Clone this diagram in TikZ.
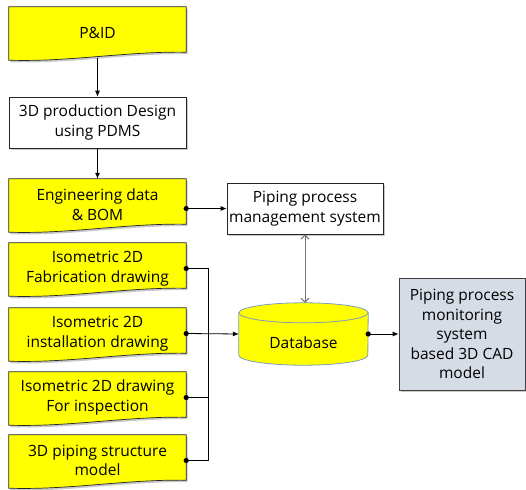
\documentclass[tikz,border=0pt]{standalone}
\usepackage{fontspec}
\setmainfont{Open Sans}
\usetikzlibrary{arrows.meta,backgrounds,calc}
\definecolor{docyellow}{HTML}{FFFF00}
\definecolor{monfill}{HTML}{D6DCE5}
\definecolor{dbline}{HTML}{7F9DB9}
\definecolor{shadec}{HTML}{C8C8C8}
\newcommand\docpath[1]{(#1.north west) -- (#1.north east) -- ([yshift=6pt]#1.south east) .. controls ([xshift=-60pt,yshift=7pt]#1.south east) and ([xshift=60pt,yshift=-4pt]#1.south west) .. ([yshift=-2pt]#1.south west) -- cycle}
\begin{document}
\begin{tikzpicture}[x=1pt,y=-1pt,
  font=\fontsize{15.5}{19.5}\selectfont,
  docnode/.style={minimum width=177pt, minimum height=51pt, inner sep=0pt, align=center},
  boxnode/.style={draw=black!85, line width=0.7pt, fill=white, inner sep=0pt, align=center},
  monnode/.style={draw=black!75, line width=0.7pt, fill=monfill, inner sep=0pt, align=center, minimum width=126pt, minimum height=112pt},
  dbnode/.style={inner sep=0pt, minimum width=129pt, minimum height=62pt},
  docline/.style={draw=black!85, line width=0.7pt, fill=docyellow},
  conn/.style={draw=black, line width=0.8pt, -{Latex[length=6pt,width=5pt]}},
  plain/.style={draw=black, line width=0.8pt},
  biconn/.style={draw=black!55, line width=1pt, {Straight Barb[length=4pt,width=8pt]}-{Straight Barb[length=4pt,width=8pt]}},
  dot/.style={fill=black}
]
\useasboundingbox (0,0) rectangle (526,489);

% document nodes (text)
\node[docnode] (pid) at (97.5,32.5) {P\&ID};
\node[boxnode, minimum width=177pt, minimum height=51pt] (prod) at (97.5,122.5) {3D production Design\\using PDMS};
\node[docnode] (eng) at (97.5,204.5) {Engineering data\\\& BOM};
\node[docnode] (fab) at (97.5,268.5) {Isometric 2D\\Fabrication drawing};
\node[docnode] (ins) at (97.5,333.5) {Isometric 2D\\installation drawing};
\node[docnode] (insp) at (97.5,397.5) {Isometric 2D drawing\\For inspection};
\node[docnode] (pip) at (97.5,460.5) {3D piping structure\\model};

\node[boxnode, minimum width=156pt, minimum height=51pt] (mgmt) at (305,208.5) {Piping process\\management system};
\node[dbnode] (db) at (303.5,334) {};
\node at (303.5,343) {Database};
\node[monnode] (mon) at (462,334) {Piping process\\monitoring\\system\\based 3D CAD\\model};

\begin{scope}[on background layer]
  % shadows
  \foreach \n in {pid,eng,fab,ins,insp,pip} {
    \fill[shadec, transform canvas={shift={(1.5pt,-2pt)}}] \docpath{\n};
  }
  \foreach \n in {prod,mgmt,mon} {
    \fill[shadec, transform canvas={shift={(2pt,-2pt)}}] (\n.north west) rectangle (\n.south east);
  }
  % document shapes
  \foreach \n in {pid,eng,fab,ins,insp,pip} {
    \path[docline] \docpath{\n};
  }
  % database cylinder
  \path[fill=docyellow, draw=dbline, line width=0.8pt]
    ([yshift=-10pt]db.north west) -- ([yshift=10pt]db.south west)
    arc[start angle=180, end angle=360, x radius=64.5pt, y radius=10pt]
    -- ([yshift=-10pt]db.north east) -- cycle;
  \path[fill=docyellow, draw=dbline, line width=0.8pt]
    ([yshift=-10pt]db.north) ellipse [x radius=64.5pt, y radius=10pt];
\end{scope}

% connectors
\draw[conn] (pid.south) -- (prod.north);
\draw[conn] (prod.south) -- (eng.north);
\draw[conn] (eng.east |- mgmt.west) -- (mgmt.west);
\fill[dot] (eng.east |- mgmt.west) circle (2.6pt);

\coordinate (busT) at ($(fab.east)+(22pt,0)$);
\draw[plain] (fab.east) -- (busT) -- (busT |- pip.east) -- (pip.east);
\draw[plain] (insp.east) -- (insp.east -| busT);
\draw[conn] (ins.east) -- (db.west);
\foreach \n in {fab,ins,insp,pip} { \fill[dot] (\n.east) circle (2.6pt); }

\draw[biconn] (mgmt.south) -- (mgmt.south |- db.north);
\draw[conn] (db.east) -- (mon.west);
\fill[dot] (db.east) circle (2.6pt);
\end{tikzpicture}
\end{document}
